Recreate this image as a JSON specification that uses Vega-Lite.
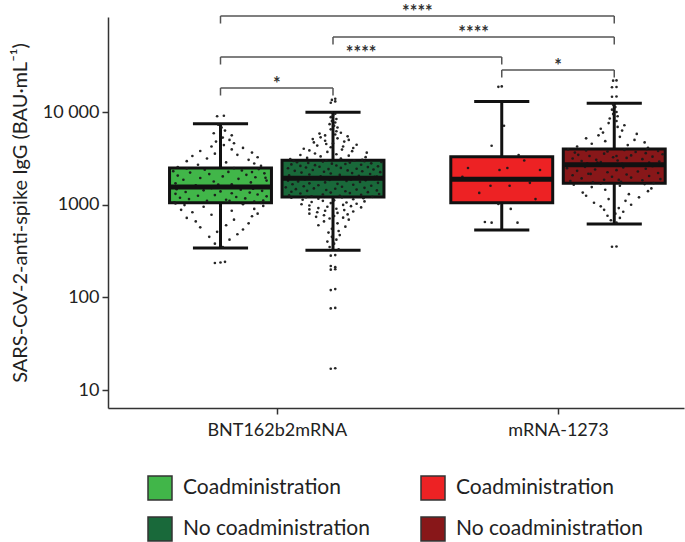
{
  "$schema": "https://vega.github.io/schema/vega-lite/v6.json",
  "width": 576,
  "height": 391,
  "autosize": {"type": "none"},
  "padding": {"left": 108, "top": 17, "right": 1, "bottom": 134},
  "config": {
    "view": {"stroke": null},
    "font": "Lato",
    "axis": {"labelFont": "Lato", "titleFont": "Lato", "labelFontSize": 18, "labelColor": "#222", "domainColor": "#333", "domainWidth": 1.5, "tickColor": "#333", "tickWidth": 1.5, "tickSize": 6, "grid": false},
    "legend": {"labelFont": "Lato"}
  },
  "datasets": {
    "stats": [
      {"g": "BC", "vac": "BNT162b2mRNA", "status": "Coadministration", "lo": 341, "q1": 1050, "med": 1550, "q3": 2490, "hi": 7480},
      {"g": "BN", "vac": "BNT162b2mRNA", "status": "No coadministration", "lo": 322, "q1": 1210, "med": 1930, "q3": 3010, "hi": 9920},
      {"g": "MC", "vac": "mRNA-1273", "status": "Coadministration", "lo": 533, "q1": 1050, "med": 1880, "q3": 3300, "hi": 13000},
      {"g": "MN", "vac": "mRNA-1273", "status": "No coadministration", "lo": 620, "q1": 1700, "med": 2700, "q3": 3990, "hi": 12400}
    ],
    "br": [
      {"a": "BC", "b": "MN", "y": 108500, "lab": "****"},
      {"a": "BN", "b": "MN", "y": 64400, "lab": "****"},
      {"a": "BC", "b": "MC", "y": 39200, "lab": "****"},
      {"a": "MC", "b": "MN", "y": 28400, "lab": "*"},
      {"a": "BC", "b": "BN", "y": 18150, "lab": "*"}
    ],
    "pts": [
      {"g":"BC","v":350,"j":0.02},{"g":"BC","v":380,"j":-0.05},{"g":"BC","v":420,"j":0.08},{"g":"BC","v":450,"j":-0.1},{"g":"BC","v":480,"j":0.15},{"g":"BC","v":510,"j":-0.03},{"g":"BC","v":540,"j":0.2},{"g":"BC","v":570,"j":-0.18},{"g":"BC","v":600,"j":0.05},{"g":"BC","v":630,"j":0.25},{"g":"BC","v":660,"j":-0.22},{"g":"BC","v":690,"j":0.12},{"g":"BC","v":720,"j":-0.3},{"g":"BC","v":750,"j":0.28},{"g":"BC","v":780,"j":-0.08},{"g":"BC","v":800,"j":0.33},{"g":"BC","v":830,"j":-0.25},{"g":"BC","v":860,"j":0.1},{"g":"BC","v":880,"j":-0.35},{"g":"BC","v":900,"j":0.3},{"g":"BC","v":920,"j":0.0},{"g":"BC","v":950,"j":-0.15},{"g":"BC","v":970,"j":0.38},{"g":"BC","v":990,"j":-0.32},{"g":"BC","v":1010,"j":0.2},{"g":"BC","v":1030,"j":-0.4},{"g":"BC","v":1045,"j":0.36},
      {"g":"BC","v":1060,"j":-0.41},{"g":"BC","v":1080,"j":0.3},{"g":"BC","v":1100,"j":-0.12},{"g":"BC","v":1110,"j":0.38},{"g":"BC","v":1130,"j":0.05},{"g":"BC","v":1150,"j":-0.28},{"g":"BC","v":1170,"j":0.22},{"g":"BC","v":1190,"j":-0.36},{"g":"BC","v":1210,"j":0.14},{"g":"BC","v":1230,"j":0.41},{"g":"BC","v":1250,"j":-0.2},{"g":"BC","v":1270,"j":-0.05},{"g":"BC","v":1290,"j":0.33},{"g":"BC","v":1310,"j":-0.4},{"g":"BC","v":1330,"j":0.1},{"g":"BC","v":1350,"j":0.26},{"g":"BC","v":1370,"j":-0.31},{"g":"BC","v":1390,"j":0.0},{"g":"BC","v":1410,"j":0.37},{"g":"BC","v":1430,"j":-0.15},{"g":"BC","v":1450,"j":0.18},{"g":"BC","v":1470,"j":-0.39},{"g":"BC","v":1490,"j":0.29},{"g":"BC","v":1510,"j":-0.08},{"g":"BC","v":1530,"j":0.4},{"g":"BC","v":1545,"j":-0.24},{"g":"BC","v":1100,"j":0.08},
      {"g":"BC","v":1580,"j":0.35},{"g":"BC","v":1620,"j":-0.22},{"g":"BC","v":1660,"j":0.1},{"g":"BC","v":1700,"j":-0.4},{"g":"BC","v":1740,"j":0.27},{"g":"BC","v":1780,"j":-0.06},{"g":"BC","v":1820,"j":0.41},{"g":"BC","v":1860,"j":-0.33},{"g":"BC","v":1900,"j":0.16},{"g":"BC","v":1940,"j":-0.18},{"g":"BC","v":1980,"j":0.31},{"g":"BC","v":2020,"j":0.02},{"g":"BC","v":2060,"j":-0.38},{"g":"BC","v":2100,"j":0.23},{"g":"BC","v":2140,"j":-0.1},{"g":"BC","v":2180,"j":0.39},{"g":"BC","v":2220,"j":-0.27},{"g":"BC","v":2260,"j":0.07},{"g":"BC","v":2300,"j":-0.42},{"g":"BC","v":2340,"j":0.19},{"g":"BC","v":2380,"j":-0.14},{"g":"BC","v":2420,"j":0.34},{"g":"BC","v":2460,"j":-0.3},{"g":"BC","v":2480,"j":0.12},{"g":"BC","v":1650,"j":-0.02},{"g":"BC","v":1950,"j":0.4},{"g":"BC","v":2250,"j":0.28},
      {"g":"BC","v":2550,"j":-0.38},{"g":"BC","v":2620,"j":0.36},{"g":"BC","v":2700,"j":-0.2},{"g":"BC","v":2780,"j":0.3},{"g":"BC","v":2860,"j":0.05},{"g":"BC","v":2950,"j":-0.3},{"g":"BC","v":3050,"j":0.25},{"g":"BC","v":3150,"j":-0.12},{"g":"BC","v":3250,"j":0.33},{"g":"BC","v":3350,"j":-0.25},{"g":"BC","v":3450,"j":0.15},{"g":"BC","v":3550,"j":-0.05},{"g":"BC","v":3650,"j":0.28},{"g":"BC","v":3800,"j":-0.18},{"g":"BC","v":3950,"j":0.1},{"g":"BC","v":4100,"j":0.2},{"g":"BC","v":4250,"j":-0.08},{"g":"BC","v":4400,"j":0.03},{"g":"BC","v":4600,"j":0.12},{"g":"BC","v":4800,"j":-0.04},{"g":"BC","v":5000,"j":0.08},{"g":"BC","v":5300,"j":0.02},{"g":"BC","v":5600,"j":0.1},{"g":"BC","v":5900,"j":-0.06},{"g":"BC","v":6300,"j":0.04},{"g":"BC","v":6800,"j":0.01},{"g":"BC","v":7300,"j":-0.02},
      {"g":"BC","v":9000,"j":-0.03},{"g":"BC","v":9100,"j":0.03},{"g":"BC","v":235,"j":-0.05},{"g":"BC","v":238,"j":0.0},{"g":"BC","v":242,"j":0.04},
      {"g":"BN","v":330,"j":0.05},{"g":"BN","v":350,"j":-0.03},{"g":"BN","v":380,"j":0.01},{"g":"BN","v":400,"j":-0.05},{"g":"BN","v":420,"j":0.03},{"g":"BN","v":450,"j":-0.01},{"g":"BN","v":470,"j":0.06},{"g":"BN","v":500,"j":-0.04},{"g":"BN","v":520,"j":0.05},{"g":"BN","v":550,"j":-0.01},{"g":"BN","v":580,"j":0.11},{"g":"BN","v":600,"j":-0.13},{"g":"BN","v":630,"j":0.04},{"g":"BN","v":660,"j":-0.08},{"g":"BN","v":690,"j":0.14},
      {"g":"BN","v":710,"j":-0.03},{"g":"BN","v":725,"j":0.09},{"g":"BN","v":740,"j":-0.15},{"g":"BN","v":755,"j":0.01},{"g":"BN","v":770,"j":-0.08},{"g":"BN","v":785,"j":0.13},{"g":"BN","v":800,"j":-0.21},{"g":"BN","v":815,"j":0.04},{"g":"BN","v":830,"j":-0.14},{"g":"BN","v":845,"j":0.18},{"g":"BN","v":860,"j":-0.07},{"g":"BN","v":875,"j":0.1},{"g":"BN","v":890,"j":-0.21},{"g":"BN","v":905,"j":0.03},{"g":"BN","v":920,"j":-0.13},{"g":"BN","v":935,"j":0.25},{"g":"BN","v":950,"j":-0.05},{"g":"BN","v":965,"j":0.16},{"g":"BN","v":980,"j":-0.21},{"g":"BN","v":995,"j":0.09},{"g":"BN","v":1010,"j":-0.28},{"g":"BN","v":1025,"j":0.21},{"g":"BN","v":1040,"j":-0.02},{"g":"BN","v":1055,"j":0.12},{"g":"BN","v":1070,"j":-0.19},{"g":"BN","v":1085,"j":0.28},{"g":"BN","v":1100,"j":-0.09},{"g":"BN","v":1115,"j":0.01},{"g":"BN","v":1130,"j":-0.27},{"g":"BN","v":1145,"j":0.18},{"g":"BN","v":1160,"j":-0.13},{"g":"BN","v":1175,"j":0.27},{"g":"BN","v":1190,"j":-0.37},{"g":"BN","v":1200,"j":0.08},{"g":"BN","v":1205,"j":-0.24},
      {"g":"BN","v":1215,"j":0.35},{"g":"BN","v":1230,"j":-0.19},{"g":"BN","v":1245,"j":0.06},{"g":"BN","v":1260,"j":-0.39},{"g":"BN","v":1275,"j":0.25},{"g":"BN","v":1290,"j":-0.09},{"g":"BN","v":1305,"j":0.41},{"g":"BN","v":1320,"j":-0.29},{"g":"BN","v":1335,"j":0.15},{"g":"BN","v":1350,"j":-0.02},{"g":"BN","v":1365,"j":0.31},{"g":"BN","v":1380,"j":-0.37},{"g":"BN","v":1395,"j":0.11},{"g":"BN","v":1410,"j":-0.23},{"g":"BN","v":1425,"j":0.39},{"g":"BN","v":1440,"j":-0.06},{"g":"BN","v":1455,"j":0.21},{"g":"BN","v":1470,"j":-0.33},{"g":"BN","v":1485,"j":0.02},{"g":"BN","v":1500,"j":-0.17},{"g":"BN","v":1520,"j":0.28},{"g":"BN","v":1540,"j":-0.42},{"g":"BN","v":1560,"j":0.08},{"g":"BN","v":1580,"j":-0.26},{"g":"BN","v":1600,"j":0.34},{"g":"BN","v":1620,"j":-0.13},{"g":"BN","v":1640,"j":0.18},{"g":"BN","v":1660,"j":-0.36},{"g":"BN","v":1680,"j":0.04},{"g":"BN","v":1700,"j":-0.21},{"g":"BN","v":1720,"j":0.4},{"g":"BN","v":1740,"j":-0.07},{"g":"BN","v":1760,"j":0.24},{"g":"BN","v":1780,"j":-0.31},{"g":"BN","v":1800,"j":0.12},{"g":"BN","v":1815,"j":-0.4},{"g":"BN","v":1830,"j":0.29},{"g":"BN","v":1845,"j":-0.03},{"g":"BN","v":1860,"j":0.16},{"g":"BN","v":1875,"j":-0.25},{"g":"BN","v":1890,"j":0.37},{"g":"BN","v":1900,"j":-0.11},{"g":"BN","v":1910,"j":0.01},{"g":"BN","v":1920,"j":-0.34},{"g":"BN","v":1925,"j":0.22},
      {"g":"BN","v":1945,"j":0.02},{"g":"BN","v":1970,"j":-0.31},{"g":"BN","v":1995,"j":0.37},{"g":"BN","v":2020,"j":-0.11},{"g":"BN","v":2045,"j":0.23},{"g":"BN","v":2070,"j":-0.39},{"g":"BN","v":2095,"j":0.06},{"g":"BN","v":2120,"j":-0.21},{"g":"BN","v":2145,"j":0.33},{"g":"BN","v":2170,"j":-0.02},{"g":"BN","v":2195,"j":0.17},{"g":"BN","v":2220,"j":-0.28},{"g":"BN","v":2245,"j":0.42},{"g":"BN","v":2270,"j":-0.08},{"g":"BN","v":2295,"j":0.26},{"g":"BN","v":2320,"j":-0.34},{"g":"BN","v":2345,"j":0.13},{"g":"BN","v":2370,"j":-0.18},{"g":"BN","v":2395,"j":0.36},{"g":"BN","v":2420,"j":-0.04},{"g":"BN","v":2445,"j":0.21},{"g":"BN","v":2470,"j":-0.4},{"g":"BN","v":2495,"j":0.07},{"g":"BN","v":2520,"j":-0.24},{"g":"BN","v":2545,"j":0.31},{"g":"BN","v":2570,"j":-0.12},{"g":"BN","v":2595,"j":0.4},{"g":"BN","v":2620,"j":-0.29},{"g":"BN","v":2645,"j":0.03},{"g":"BN","v":2670,"j":-0.16},{"g":"BN","v":2695,"j":0.25},{"g":"BN","v":2720,"j":-0.37},{"g":"BN","v":2745,"j":0.11},{"g":"BN","v":2770,"j":-0.01},{"g":"BN","v":2795,"j":0.34},{"g":"BN","v":2820,"j":-0.22},{"g":"BN","v":2845,"j":0.15},{"g":"BN","v":2870,"j":-0.32},{"g":"BN","v":2895,"j":0.43},{"g":"BN","v":2920,"j":-0.09},{"g":"BN","v":2945,"j":0.28},{"g":"BN","v":2970,"j":-0.35},{"g":"BN","v":2990,"j":0.19},{"g":"BN","v":3000,"j":-0.06},{"g":"BN","v":2005,"j":0.39},
      {"g":"BN","v":3050,"j":0.26},{"g":"BN","v":3100,"j":-0.38},{"g":"BN","v":3150,"j":0.07},{"g":"BN","v":3200,"j":-0.23},{"g":"BN","v":3260,"j":0.29},{"g":"BN","v":3320,"j":-0.11},{"g":"BN","v":3380,"j":0.14},{"g":"BN","v":3440,"j":-0.29},{"g":"BN","v":3500,"j":0.03},{"g":"BN","v":3570,"j":-0.16},{"g":"BN","v":3640,"j":0.3},{"g":"BN","v":3710,"j":-0.05},{"g":"BN","v":3780,"j":0.17},{"g":"BN","v":3850,"j":-0.21},{"g":"BN","v":3930,"j":0.08},{"g":"BN","v":4010,"j":-0.26},{"g":"BN","v":4090,"j":0.18},{"g":"BN","v":4170,"j":-0.02},{"g":"BN","v":4250,"j":0.09},{"g":"BN","v":4340,"j":-0.14},{"g":"BN","v":4430,"j":0.21},{"g":"BN","v":4520,"j":-0.06},{"g":"BN","v":4610,"j":0.0},{"g":"BN","v":4700,"j":-0.17},{"g":"BN","v":4800,"j":0.1},{"g":"BN","v":4900,"j":-0.07},{"g":"BN","v":5000,"j":0.14},{"g":"BN","v":5100,"j":-0.18},{"g":"BN","v":5200,"j":0.04},{"g":"BN","v":5330,"j":-0.11},{"g":"BN","v":5460,"j":0.13},{"g":"BN","v":5590,"j":-0.07},{"g":"BN","v":5720,"j":0.02},{"g":"BN","v":5850,"j":-0.12},{"g":"BN","v":5980,"j":0.07},
      {"g":"BN","v":6200,"j":0.03},{"g":"BN","v":6500,"j":-0.02},{"g":"BN","v":6800,"j":0.04},{"g":"BN","v":7100,"j":0.01},{"g":"BN","v":7400,"j":-0.03},{"g":"BN","v":7700,"j":0.02},{"g":"BN","v":8000,"j":-0.01},{"g":"BN","v":8400,"j":0.03},{"g":"BN","v":8800,"j":-0.02},{"g":"BN","v":9200,"j":0.0},{"g":"BN","v":9600,"j":0.02},{"g":"BN","v":9900,"j":-0.01},
      {"g":"BN","v":12600,"j":-0.02},{"g":"BN","v":13000,"j":0.02},{"g":"BN","v":13500,"j":-0.01},{"g":"BN","v":13900,"j":0.02},{"g":"BN","v":282,"j":-0.02},{"g":"BN","v":286,"j":0.02},{"g":"BN","v":218,"j":-0.02},{"g":"BN","v":212,"j":0.02},{"g":"BN","v":199,"j":-0.02},{"g":"BN","v":201,"j":0.02},{"g":"BN","v":120,"j":-0.02},{"g":"BN","v":123,"j":0.02},{"g":"BN","v":76,"j":-0.02},{"g":"BN","v":77,"j":0.02},{"g":"BN","v":17,"j":-0.02},{"g":"BN","v":17.2,"j":0.02},
      {"g":"MC","v":18700,"j":-0.03},{"g":"MC","v":18900,"j":0.0},{"g":"MC","v":7100,"j":0.02},{"g":"MC","v":4330,"j":-0.09},{"g":"MC","v":3440,"j":0.15},{"g":"MC","v":2490,"j":-0.3},{"g":"MC","v":2370,"j":-0.02},{"g":"MC","v":2490,"j":0.05},{"g":"MC","v":2370,"j":0.34},{"g":"MC","v":1600,"j":-0.1},{"g":"MC","v":1600,"j":0.07},{"g":"MC","v":1720,"j":0.25},{"g":"MC","v":1340,"j":-0.2},{"g":"MC","v":1020,"j":-0.03},{"g":"MC","v":900,"j":0.08},{"g":"MC","v":650,"j":-0.15},{"g":"MC","v":640,"j":-0.09},{"g":"MC","v":640,"j":0.14},{"g":"MC","v":1150,"j":0.3},{"g":"MC","v":2000,"j":-0.35},{"g":"MC","v":3000,"j":0.2},
      {"g":"MN","v":21800,"j":-0.01},{"g":"MN","v":21900,"j":0.02},{"g":"MN","v":18500,"j":-0.02},{"g":"MN","v":18600,"j":0.02},{"g":"MN","v":14600,"j":-0.02},{"g":"MN","v":14700,"j":0.02},{"g":"MN","v":352,"j":-0.02},{"g":"MN","v":354,"j":0.02},
      {"g":"MN","v":640,"j":0.02},{"g":"MN","v":680,"j":-0.03},{"g":"MN","v":720,"j":0.05},{"g":"MN","v":760,"j":-0.06},{"g":"MN","v":800,"j":0.01},{"g":"MN","v":840,"j":0.08},{"g":"MN","v":880,"j":-0.09},{"g":"MN","v":920,"j":0.04},{"g":"MN","v":960,"j":-0.12},{"g":"MN","v":1000,"j":0.15},{"g":"MN","v":1050,"j":-0.18},{"g":"MN","v":1100,"j":0.1},{"g":"MN","v":1150,"j":-0.05},{"g":"MN","v":1200,"j":0.22},{"g":"MN","v":1250,"j":-0.25},{"g":"MN","v":1300,"j":0.13},{"g":"MN","v":1350,"j":-0.28},{"g":"MN","v":1400,"j":0.3},{"g":"MN","v":1450,"j":-0.08},{"g":"MN","v":1500,"j":0.33},{"g":"MN","v":1550,"j":-0.2},{"g":"MN","v":1600,"j":0.05},{"g":"MN","v":1640,"j":-0.36},{"g":"MN","v":1670,"j":0.27},{"g":"MN","v":1690,"j":-0.12},
      {"g":"MN","v":1710,"j":0.35},{"g":"MN","v":1740,"j":-0.19},{"g":"MN","v":1770,"j":0.06},{"g":"MN","v":1800,"j":-0.39},{"g":"MN","v":1830,"j":0.25},{"g":"MN","v":1860,"j":-0.09},{"g":"MN","v":1890,"j":0.41},{"g":"MN","v":1920,"j":-0.29},{"g":"MN","v":1960,"j":0.15},{"g":"MN","v":2000,"j":-0.02},{"g":"MN","v":2040,"j":0.31},{"g":"MN","v":2080,"j":-0.37},{"g":"MN","v":2120,"j":0.11},{"g":"MN","v":2160,"j":-0.23},{"g":"MN","v":2200,"j":0.39},{"g":"MN","v":2240,"j":-0.06},{"g":"MN","v":2280,"j":0.21},{"g":"MN","v":2320,"j":-0.33},{"g":"MN","v":2360,"j":0.02},{"g":"MN","v":2400,"j":-0.17},{"g":"MN","v":2440,"j":0.28},{"g":"MN","v":2480,"j":-0.42},{"g":"MN","v":2520,"j":0.08},{"g":"MN","v":2560,"j":-0.26},{"g":"MN","v":2600,"j":0.34},{"g":"MN","v":2640,"j":-0.13},{"g":"MN","v":2670,"j":0.18},{"g":"MN","v":2690,"j":-0.36},{"g":"MN","v":1850,"j":0.04},{"g":"MN","v":2150,"j":-0.21},
      {"g":"MN","v":2720,"j":-0.4},{"g":"MN","v":2760,"j":0.07},{"g":"MN","v":2800,"j":-0.24},{"g":"MN","v":2840,"j":0.31},{"g":"MN","v":2880,"j":-0.12},{"g":"MN","v":2920,"j":0.4},{"g":"MN","v":2960,"j":-0.29},{"g":"MN","v":3000,"j":0.03},{"g":"MN","v":3050,"j":-0.16},{"g":"MN","v":3100,"j":0.25},{"g":"MN","v":3150,"j":-0.37},{"g":"MN","v":3200,"j":0.11},{"g":"MN","v":3250,"j":-0.01},{"g":"MN","v":3300,"j":0.34},{"g":"MN","v":3350,"j":-0.22},{"g":"MN","v":3400,"j":0.15},{"g":"MN","v":3450,"j":-0.32},{"g":"MN","v":3500,"j":0.43},{"g":"MN","v":3550,"j":-0.09},{"g":"MN","v":3600,"j":0.28},{"g":"MN","v":3650,"j":-0.35},{"g":"MN","v":3700,"j":0.19},{"g":"MN","v":3750,"j":-0.06},{"g":"MN","v":3800,"j":0.39},{"g":"MN","v":3850,"j":-0.25},{"g":"MN","v":3900,"j":0.09},{"g":"MN","v":3950,"j":-0.41},{"g":"MN","v":3980,"j":0.29},{"g":"MN","v":2850,"j":-0.15},{"g":"MN","v":3350,"j":0.02},
      {"g":"MN","v":4100,"j":0.3},{"g":"MN","v":4250,"j":-0.33},{"g":"MN","v":4400,"j":0.12},{"g":"MN","v":4550,"j":-0.2},{"g":"MN","v":4700,"j":0.27},{"g":"MN","v":4850,"j":-0.08},{"g":"MN","v":5000,"j":0.18},{"g":"MN","v":5200,"j":-0.25},{"g":"MN","v":5400,"j":0.05},{"g":"MN","v":5600,"j":-0.14},{"g":"MN","v":5800,"j":0.2},{"g":"MN","v":6000,"j":-0.1},{"g":"MN","v":6300,"j":0.07},{"g":"MN","v":6600,"j":-0.12},{"g":"MN","v":6900,"j":0.03},{"g":"MN","v":7200,"j":0.09},{"g":"MN","v":7600,"j":-0.05},{"g":"MN","v":8000,"j":0.02},{"g":"MN","v":8500,"j":-0.04},{"g":"MN","v":9000,"j":0.03},{"g":"MN","v":9500,"j":-0.01},{"g":"MN","v":10000,"j":0.02},{"g":"MN","v":10600,"j":-0.02},{"g":"MN","v":11300,"j":0.01},{"g":"MN","v":12000,"j":-0.01}
    ]
  },
  "layer": [
    {
      "data": {"name": "stats"},
      "transform": [
        {"calculate": "datum.g=='BC'?1:datum.g=='BN'?2:datum.g=='MC'?3.5:4.5", "as": "c"}
      ],
      "mark": {"type": "rule", "color": "#111", "strokeWidth": 3},
      "encoding": {
        "x": {"field": "c", "type": "quantitative", "scale": {"domain": [0, 5.12], "nice": false, "zero": false},
              "axis": {"values": [1.5, 4.0], "labelExpr": "datum.value < 2.5 ? 'BNT162b2mRNA' : 'mRNA-1273'", "title": null, "labelPadding": 7}},
        "y": {"field": "lo", "type": "quantitative", "scale": {"type": "log", "domain": [6.41, 105900], "nice": false},
              "axis": {"values": [10, 100, 1000, 10000], "labelExpr": "datum.value >= 10000 ? '10 000' : format(datum.value, 'd')", "title": "SARS-CoV-2-anti-spike IgG (BAU·mL⁻¹)", "titleFontSize": 20, "titleFontWeight": "normal", "titleColor": "#222", "titlePadding": 12, "labelPadding": 3}},
        "y2": {"field": "hi"}
      }
    },
    {
      "data": {"name": "stats"},
      "transform": [
        {"calculate": "datum.g=='BC'?1:datum.g=='BN'?2:datum.g=='MC'?3.5:4.5", "as": "c"},
        {"calculate": "datum.c-0.245", "as": "cl"},
        {"calculate": "datum.c+0.245", "as": "cr"},
        {"fold": ["lo", "hi"], "as": ["which", "cap"]}
      ],
      "mark": {"type": "rule", "color": "#111", "strokeWidth": 3},
      "encoding": {
        "x": {"field": "cl", "type": "quantitative"},
        "x2": {"field": "cr"},
        "y": {"field": "cap", "type": "quantitative"}
      }
    },
    {
      "data": {"name": "stats"},
      "transform": [
        {"calculate": "datum.g=='BC'?1:datum.g=='BN'?2:datum.g=='MC'?3.5:4.5", "as": "c"},
        {"calculate": "datum.c-0.453", "as": "bl"},
        {"calculate": "datum.c+0.453", "as": "br"},
        {"calculate": "datum.vac+'|'+datum.status", "as": "key"}
      ],
      "mark": {"type": "rect", "stroke": "#111", "strokeWidth": 3, "opacity": 1},
      "encoding": {
        "x": {"field": "bl", "type": "quantitative"},
        "x2": {"field": "br"},
        "y": {"field": "q1", "type": "quantitative"},
        "y2": {"field": "q3"},
        "fill": {"field": "key", "type": "nominal",
          "scale": {"domain": ["BNT162b2mRNA|Coadministration", "mRNA-1273|Coadministration", "BNT162b2mRNA|No coadministration", "mRNA-1273|No coadministration"],
                    "range": ["#41b649", "#ed2224", "#19693a", "#881719"]},
          "legend": {"orient": "none", "legendX": 39, "legendY": 458, "columns": 2, "direction": "horizontal", "title": null,
                     "symbolType": "square", "symbolSize": 576, "symbolStrokeColor": "#333", "symbolStrokeWidth": 1.5, "symbolOpacity": 1,
                     "labelFontSize": 21, "labelColor": "#222", "labelOffset": 10, "labelLimit": 300,
                     "rowPadding": 11, "columnPadding": 48, "padding": 0,
                     "labelExpr": "split(datum.label, '|')[1]"}}
      }
    },
    {
      "data": {"name": "pts"},
      "transform": [
        {"calculate": "datum.g=='BC'?1:datum.g=='BN'?2:datum.g=='MC'?3.5:4.5", "as": "c"},
        {"calculate": "datum.c+datum.j", "as": "px"}
      ],
      "mark": {"type": "circle", "color": "#1a1a1a", "size": 7, "opacity": 0.95},
      "encoding": {
        "x": {"field": "px", "type": "quantitative"},
        "y": {"field": "v", "type": "quantitative"}
      }
    },
    {
      "data": {"name": "stats"},
      "transform": [
        {"calculate": "datum.g=='BC'?1:datum.g=='BN'?2:datum.g=='MC'?3.5:4.5", "as": "c"},
        {"calculate": "datum.c-0.45", "as": "bl"},
        {"calculate": "datum.c+0.45", "as": "br"}
      ],
      "mark": {"type": "rule", "color": "#111", "strokeWidth": 5},
      "encoding": {
        "x": {"field": "bl", "type": "quantitative"},
        "x2": {"field": "br"},
        "y": {"field": "med", "type": "quantitative"}
      }
    },
    {
      "data": {"name": "br"},
      "transform": [
        {"calculate": "datum.a=='BC'?1:datum.a=='BN'?2:datum.a=='MC'?3.5:4.5", "as": "ca"},
        {"calculate": "datum.b=='BC'?1:datum.b=='BN'?2:datum.b=='MC'?3.5:4.5", "as": "cb"}
      ],
      "mark": {"type": "rule", "color": "#555", "strokeWidth": 1.5},
      "encoding": {
        "x": {"field": "ca", "type": "quantitative"},
        "x2": {"field": "cb"},
        "y": {"field": "y", "type": "quantitative"}
      }
    },
    {
      "data": {"name": "br"},
      "transform": [
        {"calculate": "datum.a=='BC'?1:datum.a=='BN'?2:datum.a=='MC'?3.5:4.5", "as": "ca"},
        {"calculate": "datum.b=='BC'?1:datum.b=='BN'?2:datum.b=='MC'?3.5:4.5", "as": "cb"},
        {"calculate": "datum.y*0.83", "as": "yl"},
        {"fold": ["ca", "cb"], "as": ["end", "xe"]}
      ],
      "mark": {"type": "rule", "color": "#555", "strokeWidth": 1.5},
      "encoding": {
        "x": {"field": "xe", "type": "quantitative"},
        "y": {"field": "y", "type": "quantitative"},
        "y2": {"field": "yl"}
      }
    },
    {
      "data": {"name": "br"},
      "transform": [
        {"calculate": "datum.a=='BC'?1:datum.a=='BN'?2:datum.a=='MC'?3.5:4.5", "as": "ca"},
        {"calculate": "datum.b=='BC'?1:datum.b=='BN'?2:datum.b=='MC'?3.5:4.5", "as": "cb"},
        {"calculate": "(datum.ca+datum.cb)/2", "as": "xm"}
      ],
      "mark": {"type": "text", "font": "Lato", "fontSize": 18, "fontWeight": "bold", "fill": "#333", "baseline": "alphabetic", "dy": 2},
      "encoding": {
        "x": {"field": "xm", "type": "quantitative"},
        "y": {"field": "y", "type": "quantitative"},
        "text": {"field": "lab"}
      }
    }
  ]
}
